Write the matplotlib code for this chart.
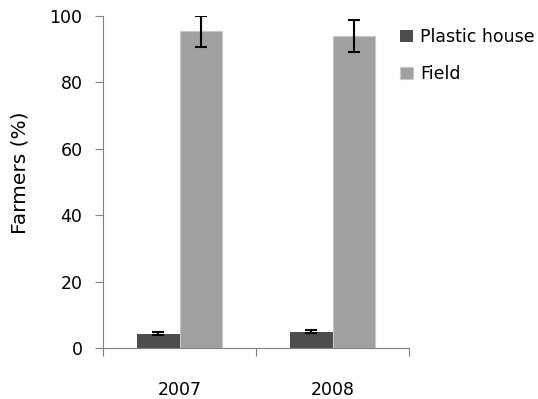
import numpy as np
import matplotlib.pyplot as plt

years = ['2007', '2008']
plastic = [4.3, 4.9]
plastic_err = [0.4, 0.5]
field = [95.4, 93.9]
field_err = [4.7, 4.8]

plt.rcParams['font.family'] = ['DejaVu Sans']

fig = plt.figure(figsize=(5.38, 3.99), dpi=100)
ax = fig.add_axes([103/538, 1 - 348/399, 306/538, 332/399])

x = np.arange(len(years)) + 1
w = 0.28
ax.bar(x - w/2, plastic, w, color='#4d4d4d', label='Plastic house',
       yerr=plastic_err, error_kw=dict(ecolor='black', capsize=4, elinewidth=1.5, capthick=1.5))
ax.bar(x + w/2, field, w, color='#a0a0a0', edgecolor='#c8c8c8', linewidth=0.8, label='Field',
       yerr=field_err, error_kw=dict(ecolor='black', capsize=4, elinewidth=1.5, capthick=1.5))

ax.set_xlim(0.5, 2.5)
ax.set_ylim(0, 100)
ax.set_yticks([0, 20, 40, 60, 80, 100])
ax.set_xticks([0.5, 1.5, 2.5])
ax.set_xticklabels([])
ax.set_xticks(x, minor=True)
ax.set_xticklabels(years, minor=True)
ax.tick_params(axis='x', which='major', length=6, color='#808080', direction='out')
ax.tick_params(axis='x', which='minor', length=0, pad=24, labelsize=12.5)
ax.tick_params(axis='y', length=5.8, color='#808080', labelsize=12.5, pad=9)

for s in ['top', 'right']:
    ax.spines[s].set_visible(False)
for s in ['left', 'bottom']:
    ax.spines[s].set_color('#808080')

ax.set_ylabel('Farmers (%)', fontsize=14.5)
ax.yaxis.set_label_coords(-0.24, 0.527)

fig.legend(loc='upper left', bbox_to_anchor=(400/538, 1 - 28/399), frameon=False, fontsize=12.5,
           handlelength=0.75, handleheight=0.65, handletextpad=0.4, labelspacing=1.1,
           borderpad=0, borderaxespad=0)

fig.savefig('out.png')
